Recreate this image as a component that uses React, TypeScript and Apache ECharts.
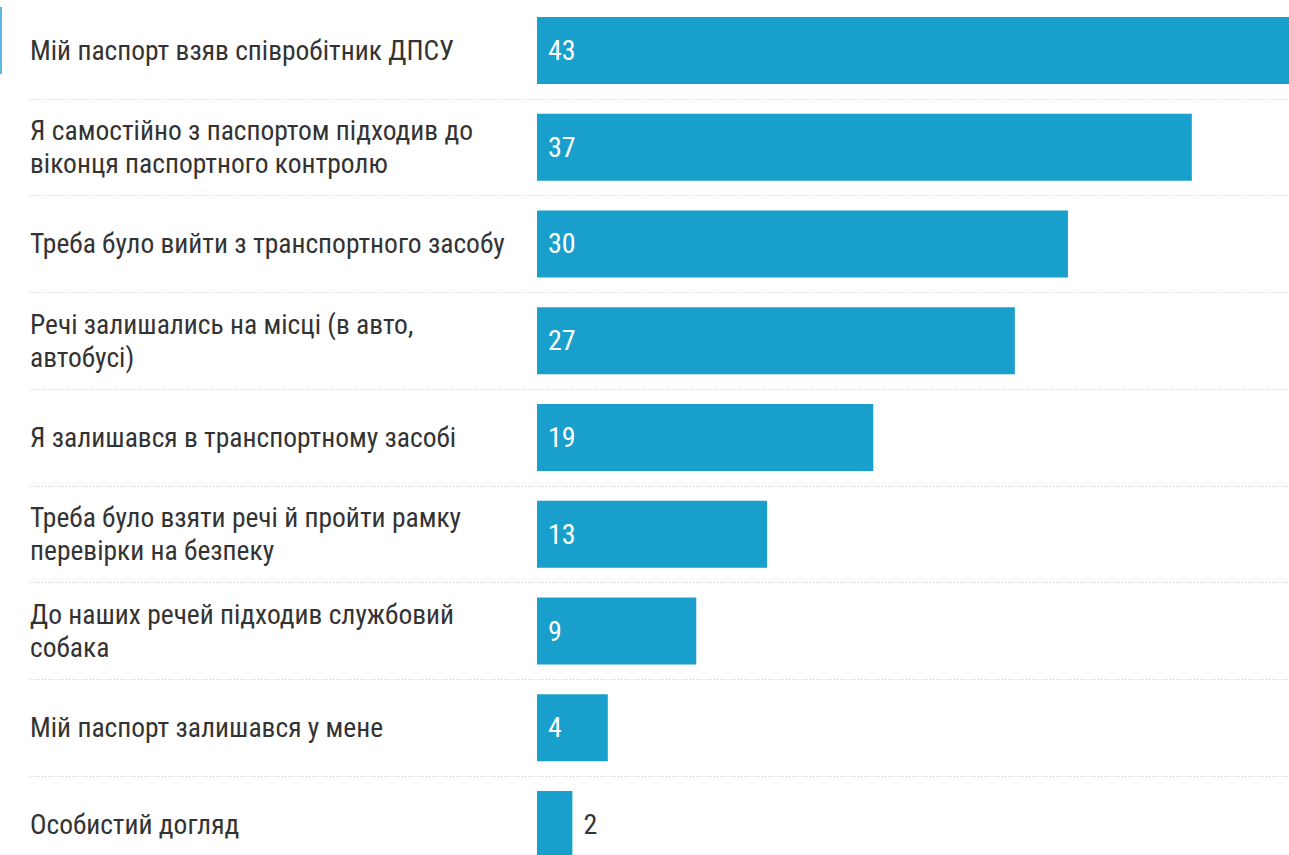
import React, { useEffect, useRef } from "react";
import * as echarts from "echarts";

const categories: string[] = [
  "Мій паспорт взяв співробітник ДПСУ",
  "Я самостійно з паспортом підходив до\nвіконця паспортного контролю",
  "Треба було вийти з транспортного засобу",
  "Речі залишались на місці (в авто,\nавтобусі)",
  "Я залишався в транспортному засобі",
  "Треба було взяти речі й пройти рамку\nперевірки на безпеку",
  "До наших речей підходив службовий\nсобака",
  "Мій паспорт залишався у мене",
  "Особистий догляд",
];
const values: number[] = [43, 37, 30, 27, 19, 13, 9, 4, 2];

const BAR_COLOR = "#199fcb";
const TEXT_COLOR = "#333333";
const FONT = "'Roboto Condensed', Roboto, sans-serif";

export default function App() {
  const ref = useRef<HTMLDivElement>(null);
  useEffect(() => {
    if (!ref.current) return;
    const chart = echarts.init(ref.current, undefined, { renderer: "svg" });
    chart.setOption({
      animation: false,
      backgroundColor: "#ffffff",
      grid: [
        { left: 30, top: 2, width: 1280, height: 871 },
        { left: 537, top: 2, width: 761, height: 871 },
      ],
      xAxis: [
        { gridIndex: 0, type: "value", min: 0, max: 1, show: false },
        { gridIndex: 1, type: "value", min: 0, max: 43, show: false },
      ],
      yAxis: [
        {
          gridIndex: 0,
          type: "category",
          data: categories,
          inverse: true,
          axisLine: { show: false },
          axisTick: { show: false },
          axisLabel: { show: false },
          splitLine: {
            show: true,
            interval: (i: number) => i !== 0,
            lineStyle: { color: "#cccccc", width: 1, type: [1, 2] },
          },
        },
        {
          gridIndex: 1,
          type: "category",
          data: categories,
          inverse: true,
          axisLine: { show: false },
          axisTick: { show: false },
          splitLine: { show: false },
          axisLabel: {
            align: "left",
            margin: 507,
            fontSize: 27.5,
            lineHeight: 33,
            color: TEXT_COLOR,
            fontFamily: FONT,
          },
        },
      ],
      series: [
        {
          type: "bar",
          xAxisIndex: 1,
          yAxisIndex: 1,
          barWidth: 67,
          itemStyle: { color: BAR_COLOR },
          label: {
            show: true,
            position: "insideLeft",
            distance: 11,
            color: "#ffffff",
            fontSize: 28,
            fontFamily: FONT,
            formatter: "{c}",
          },
          data: values.map((v) =>
            v < 3
              ? { value: v, label: { position: "right", color: TEXT_COLOR, distance: 11 } }
              : v
          ),
        },
      ],
      graphic: [
        { type: "rect", left: 0, top: 7, shape: { width: 2, height: 67 }, style: { fill: "#5ab9e3" } },
      ],
    });
    return () => chart.dispose();
  }, []);
  return (
    <div
      ref={ref}
      style={{ position: "fixed", left: 0, top: 0, width: 1320, height: 890, background: "#fff" }}
    />
  );
}
